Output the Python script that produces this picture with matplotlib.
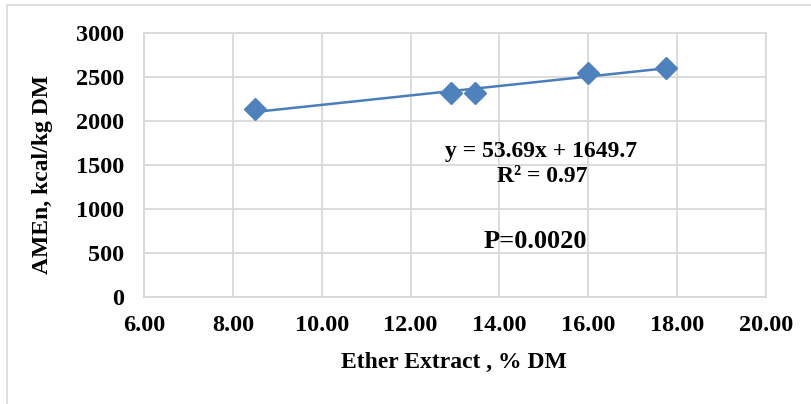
import matplotlib
matplotlib.use("Agg")
import matplotlib.pyplot as plt
import numpy as np
from matplotlib.patches import Rectangle

# Ether extract (% DM) and AMEn (kcal/kg DM)
ether_extract = [8.50, 12.90, 13.45, 16.00, 17.75]
amen = [2140, 2325, 2318, 2549, 2609]

# Linear trend reported on the chart
slope = 53.69
intercept = 1649.7
r_squared = 0.97
p_value = "0.0020"

x_ticks = [6, 8, 10, 12, 14, 16, 18, 20]
y_ticks = [0, 500, 1000, 1500, 2000, 2500, 3000]

plt.rcParams["font.family"] = ["Liberation Serif", "DejaVu Serif"]
plt.rcParams["font.weight"] = "bold"

W, H = 811, 404
fig = plt.figure(figsize=(W / 100, H / 100), dpi=100)
ax = fig.add_axes([144 / W, 1 - 297.3 / H, (766 - 144) / W, (297.3 - 33.3) / H])

grid_c = "#D9D9D9"
blue = "#4F81BD"

# trendline from the fitted equation, spanning the observed range
xs = np.array([min(ether_extract), max(ether_extract)])
ax.plot(xs, slope * xs + intercept, color="#4A7EBB", lw=1.8, zorder=3)
ax.plot(ether_extract, amen, linestyle="none", marker="D", markersize=11.5,
        color=blue, markeredgecolor=blue, zorder=4)

ax.set_xlim(6, 20)
ax.set_ylim(0, 3000)
ax.set_xticks(x_ticks)
ax.set_xticklabels([f"{v:.2f}" for v in x_ticks])
ax.set_yticks(y_ticks)
ax.set_yticklabels([str(v) for v in y_ticks])
ax.grid(True, color=grid_c, lw=1.3)
ax.set_axisbelow(True)
for s in ax.spines.values():
    s.set_color(grid_c)
    s.set_linewidth(1.3)
ax.tick_params(axis="both", length=0, labelsize=17.5)
ax.tick_params(axis="x", pad=13)
ax.tick_params(axis="y", pad=14)
for lab in ax.get_xticklabels() + ax.get_yticklabels():
    lab.set_fontweight("bold")

fig.text(454 / W, 1 - 362 / H, "Ether Extract , % DM", ha="center", va="center",
         fontsize=17, fontweight="bold")
fig.text(43 / W, 1 - 175 / H, "AMEn, kcal/kg DM", ha="center", va="center",
         rotation=90, fontsize=17, fontweight="bold")

fig.text(541 / W, 1 - 152 / H, f"y = {slope}x + {intercept}", ha="center", va="center",
         fontsize=17, fontweight="bold")
fig.text(542 / W, 1 - 177 / H, f"R² = {r_squared}", ha="center", va="center",
         fontsize=17, fontweight="bold")
fig.text(535 / W, 1 - 242 / H, f"P={p_value}", ha="center", va="center",
         fontsize=19, fontweight="bold")

# outer chart frame
fig.patches.append(Rectangle((7 / W, -0.1), 1.2, 1 - 5 / H + 0.1, transform=fig.transFigure,
                             fill=False, edgecolor=grid_c, lw=1.2, clip_on=False))

fig.savefig("out.png", dpi=100)
